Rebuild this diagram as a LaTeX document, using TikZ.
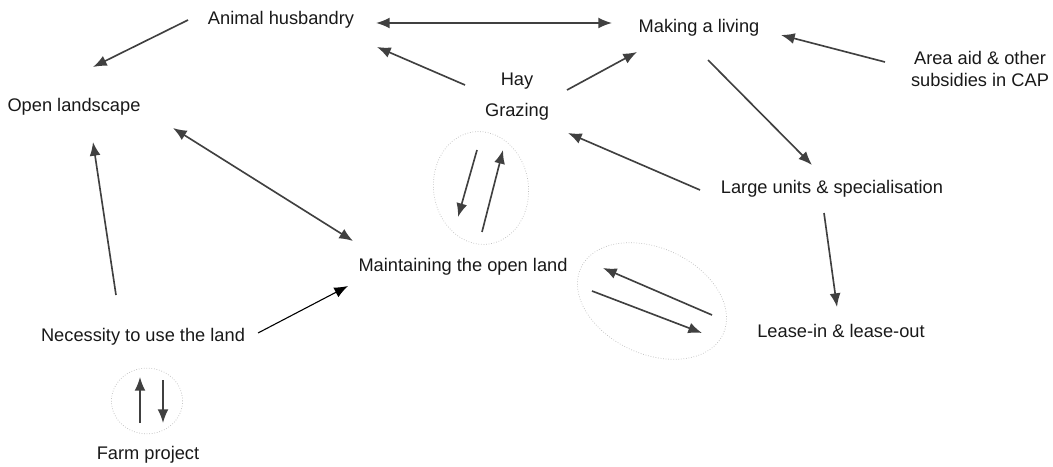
\documentclass[tikz,border=0pt]{standalone}
\usepackage{fontspec}
\setmainfont{Liberation Sans}
\usetikzlibrary{arrows.meta,calc}

\begin{document}
\begin{tikzpicture}[x=0.548pt,y=-0.548pt,>={Latex[length=7.5pt,width=6pt]},
  lbl/.style={inner sep=0pt,font=\fontsize{10}{12}\selectfont,text=black!90},
  link/.style={->,draw=black!75,line width=0.9pt},
  ring/.style={draw=black!25,densely dotted,line width=0.4pt}]

\useasboundingbox (0,0) rectangle (1053,467);

% labels
\node[lbl] (animal) at (281,20) {Animal husbandry};
\node[lbl] (living) at (699,28) {Making a living};
\node[lbl,align=center] (aid) at (980,69) {Area aid \& other\\subsidies in CAP};
\node[lbl] (open) at (74,107) {Open landscape};
\node[lbl] (hay) at (517,81) {Hay};
\node[lbl] (grazing) at (517,112) {Grazing};
\node[lbl] (large) at (832,189) {Large units \& specialisation};
\node[lbl] (maint) at (463,267) {Maintaining the open land};
\node[lbl] (lease) at (841,331) {Lease-in \& lease-out};
\node[lbl] (need) at (143,337) {Necessity to use the land};
\node[lbl] (farm) at (148,455) {Farm project};

% rings with the two-way arrows
\coordinate (loopa) at (481,188);
\coordinate (loopb) at (652,301);
\coordinate (loopc) at (147,401);
\draw[ring] (loopa) circle[x radius=26pt,y radius=31pt,rotate=8];
\draw[ring] (loopb) circle[x radius=43pt,y radius=29pt,rotate=-25];
\draw[ring] (loopc) circle[x radius=19.5pt,y radius=18pt];

\draw[link] ($(loopa)+(-4,-38)$) -- ($(loopa)+(-23,29)$);
\draw[link] ($(loopa)+(1,44)$) -- ($(loopa)+(22,-38)$);
\draw[link] ($(loopb)+(60,14)$) -- ($(loopb)+(-49,-33)$);
\draw[link] ($(loopb)+(-60,-10)$) -- ($(loopb)+(50,32)$);
\draw[link] ($(loopc)+(-7,22)$) -- ($(loopc)+(-7,-24)$);
\draw[link] ($(loopc)+(16,-21)$) -- ($(loopc)+(16,22)$);

% connectors
\draw[link] ($(animal)+(-93,0)$) -- ($(open)+(19,-40)$);
\draw[link,<->] ($(animal)+(95,3)$) -- ($(living)+(-87,-5)$);
\draw[link] ($(hay)+(-52,4)$) -- ($(animal)+(96,27)$);
\draw[link] ($(hay)+(50,9)$) -- ($(living)+(-62,24)$);
\draw[link] ($(aid)+(-95,-7)$) -- ($(living)+(82,7)$);
\draw[link] ($(living)+(9,32)$) -- ($(large)+(-20,-24)$);
\draw[link] ($(large)+(-132,1)$) -- ($(grazing)+(51,21)$);
\draw[link] ($(large)+(-8,24)$) -- ($(lease)+(-4,-24)$);
\draw[link,<->] ($(open)+(99,21)$) -- ($(maint)+(-110,-26)$);
\draw[link] ($(need)+(-27,-42)$) -- ($(open)+(19,35)$);
\draw[link,draw=black,line width=0.6pt] ($(need)+(115,-4)$) -- ($(maint)+(-115,19)$);

\end{tikzpicture}
\end{document}
